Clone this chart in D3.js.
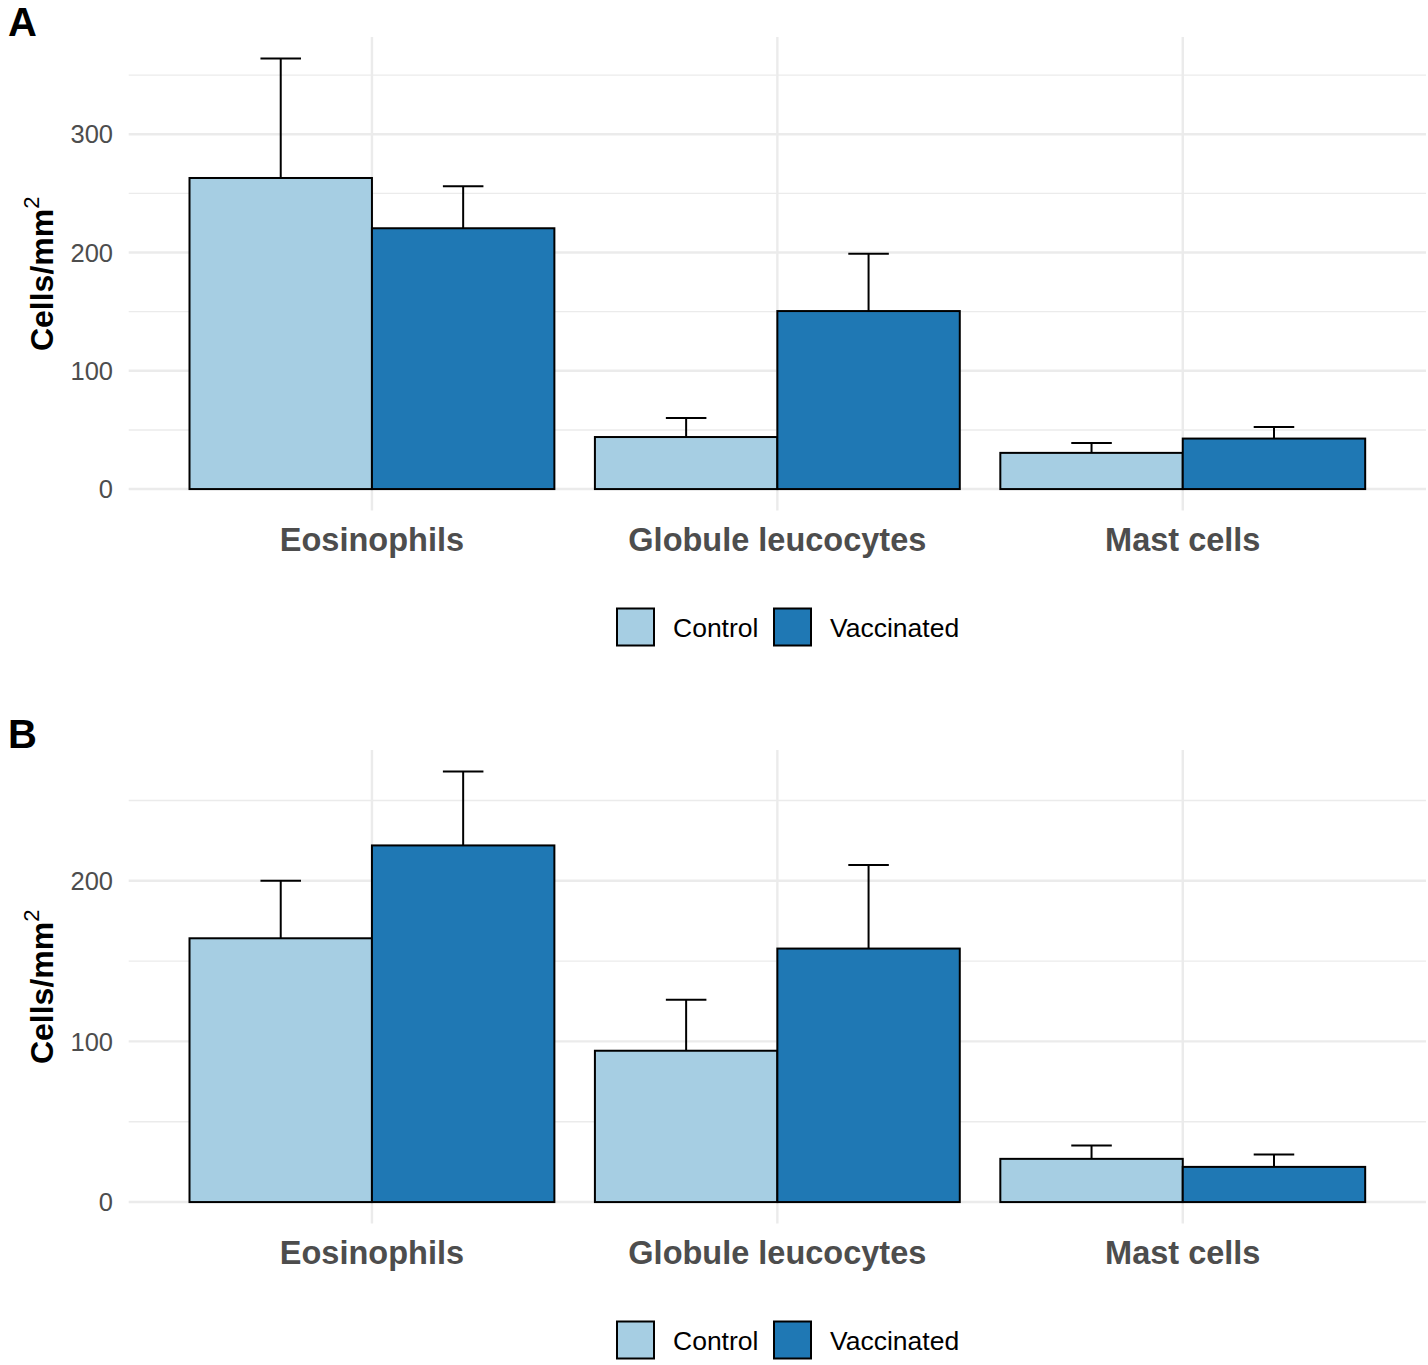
<!DOCTYPE html>
<html>
<head>
<meta charset="utf-8">
<script src="https://cdn.jsdelivr.net/npm/d3@7"></script>
<style>
  html, body { margin: 0; padding: 0; background: #fff; }
  svg { display: block; font-family: "Liberation Sans", Arial, sans-serif; }
</style>
</head>
<body>
<svg id="chart" width="1428" height="1365"></svg>
<script>
// ---- Data ----
const categories = ["Eosinophils", "Globule leucocytes", "Mast cells"];
const groups = ["Control", "Vaccinated"];
const colors = ["#a6cee3", "#1f78b4"];

// Panel A
const aControl     = [263, 44, 30.6];
const aControlErr  = [364, 60, 39];
const aVaccinated  = [220.5, 150.5, 42.7];
const aVaccErr     = [256, 199, 52.5];
const aTicks = [0, 100, 200, 300];
const aMinor = [50, 150, 250, 350];

// Panel B
const bControl     = [164.2, 94.2, 26.9];
const bControlErr  = [200, 126, 35.2];
const bVaccinated  = [222, 157.8, 21.9];
const bVaccErr     = [268, 209.8, 29.6];
const bTicks = [0, 100, 200];
const bMinor = [50, 150, 250];

const svg = d3.select("#chart");

function drawPanel(opts) {
  const { tag, top, bottom, ctrl, ctrlErr, vacc, vaccErr, ticks, minor, tagY, labelY, legendY } = opts;
  const left = 128.7, right = 1426;
  const g = svg.append("g");

  const ymax = d3.max([...ctrlErr, ...vaccErr]);
  const y = d3.scaleLinear().domain([-0.05 * ymax, 1.05 * ymax]).range([bottom, top]);
  const x = d3.scaleLinear().domain([0.4, categories.length + 0.6]).range([left, right]);

  // minor grid
  g.append("g").selectAll("line").data(minor).join("line")
    .attr("x1", left).attr("x2", right)
    .attr("y1", d => y(d)).attr("y2", d => y(d))
    .attr("stroke", "#ebebeb").attr("stroke-width", 1.4);
  // major grid horizontal
  g.append("g").selectAll("line").data(ticks).join("line")
    .attr("x1", left).attr("x2", right)
    .attr("y1", d => y(d)).attr("y2", d => y(d))
    .attr("stroke", "#ebebeb").attr("stroke-width", 2.4);
  // major grid vertical
  g.append("g").selectAll("line").data(categories).join("line")
    .attr("x1", (d, i) => x(i + 1)).attr("x2", (d, i) => x(i + 1))
    .attr("y1", top).attr("y2", bottom)
    .attr("stroke", "#ebebeb").attr("stroke-width", 2.4);

  // y tick labels
  g.append("g").selectAll("text").data(ticks).join("text")
    .attr("x", 113).attr("y", d => y(d))
    .attr("dy", "0.36em")
    .attr("text-anchor", "end")
    .attr("font-size", 25.5)
    .attr("fill", "#4d4d4d")
    .text(d => d);

  // x category labels
  g.append("g").selectAll("text").data(categories).join("text")
    .attr("x", (d, i) => x(i + 1)).attr("y", labelY)
    .attr("text-anchor", "middle")
    .attr("font-size", 32.5)
    .attr("font-weight", "bold")
    .attr("fill", "#4d4d4d")
    .text(d => d);

  const series = [
    { vals: ctrl, errs: ctrlErr, off: -0.225, color: colors[0] },
    { vals: vacc, errs: vaccErr, off: 0.225, color: colors[1] }
  ];
  const bw = 0.45;

  series.forEach(s => {
    const eg = g.append("g");
    s.vals.forEach((v, i) => {
      const cx = x(i + 1 + s.off);
      eg.append("line")
        .attr("x1", cx).attr("x2", cx)
        .attr("y1", y(v)).attr("y2", y(s.errs[i]))
        .attr("stroke", "#000").attr("stroke-width", 2);
      eg.append("line")
        .attr("x1", x(i + 1 + s.off - 0.05)).attr("x2", x(i + 1 + s.off + 0.05))
        .attr("y1", y(s.errs[i])).attr("y2", y(s.errs[i]))
        .attr("stroke", "#000").attr("stroke-width", 2);
    });
  });

  series.forEach(s => {
    g.append("g").selectAll("rect").data(s.vals).join("rect")
      .attr("x", (d, i) => x(i + 1 + s.off - bw / 2))
      .attr("width", x(bw) - x(0))
      .attr("y", d => y(d))
      .attr("height", d => y(0) - y(d))
      .attr("fill", s.color)
      .attr("stroke", "#000")
      .attr("stroke-width", 2);
  });

  // y title
  const cy = (top + bottom) / 2;
  const t = g.append("text")
    .attr("transform", `translate(53,${cy}) rotate(-90)`)
    .attr("text-anchor", "middle")
    .attr("font-size", 32)
    .attr("font-weight", "bold")
    .attr("fill", "#000");
  t.append("tspan").text("Cells/mm");
  t.append("tspan").attr("dy", -14).attr("font-size", 22).attr("font-weight", "normal").text("2");

  // tag
  g.append("text")
    .attr("x", 8).attr("y", tagY)
    .attr("font-size", 40)
    .attr("font-weight", "bold")
    .attr("fill", "#000")
    .text(tag);

  // legend
  const lg = g.append("g");
  const keyX = [617, 774];
  const textX = [673, 830];
  groups.forEach((name, i) => {
    lg.append("rect")
      .attr("x", keyX[i]).attr("y", legendY - 18.5)
      .attr("width", 37).attr("height", 37)
      .attr("fill", colors[i]).attr("stroke", "#000").attr("stroke-width", 2);
    lg.append("text")
      .attr("x", textX[i]).attr("y", legendY)
      .attr("dy", "0.36em")
      .attr("font-size", 26.5)
      .attr("fill", "#000")
      .text(name);
  });
}

drawPanel({
  tag: "A", top: 37, bottom: 510.6,
  ctrl: aControl, ctrlErr: aControlErr, vacc: aVaccinated, vaccErr: aVaccErr,
  ticks: aTicks, minor: aMinor, tagY: 36, labelY: 551, legendY: 627
});
drawPanel({
  tag: "B", top: 750, bottom: 1223.6,
  ctrl: bControl, ctrlErr: bControlErr, vacc: bVaccinated, vaccErr: bVaccErr,
  ticks: bTicks, minor: bMinor, tagY: 748, labelY: 1264, legendY: 1340
});
</script>
</body>
</html>
